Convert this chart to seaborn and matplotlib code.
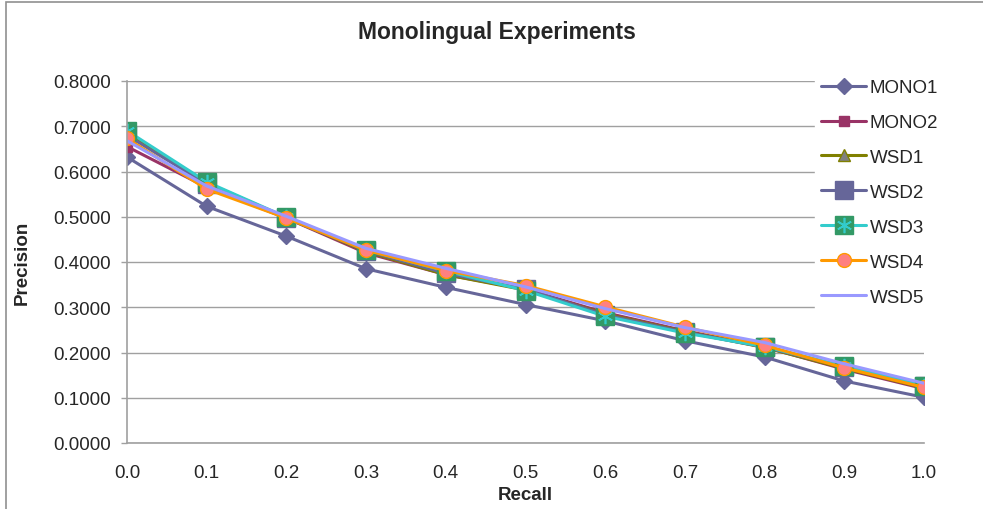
import numpy as np
import pandas as pd
import seaborn as sns
import matplotlib.pyplot as plt
from matplotlib.patches import Rectangle
from matplotlib.legend_handler import HandlerTuple
from matplotlib.ticker import FormatStrFormatter

# Данные
recall = [0.0, 0.1, 0.2, 0.3, 0.4, 0.5, 0.6, 0.7, 0.8, 0.9, 1.0]
mono1 = [0.632, 0.523, 0.457, 0.385, 0.344, 0.306, 0.270, 0.226, 0.190, 0.137, 0.101]
mono2 = [0.655, 0.565, 0.497, 0.420, 0.372, 0.340, 0.288, 0.248, 0.212, 0.163, 0.120]
wsd1 = [0.685, 0.575, 0.498, 0.423, 0.372, 0.338, 0.285, 0.246, 0.211, 0.165, 0.122]
wsd2 = [0.680, 0.572, 0.497, 0.425, 0.375, 0.340, 0.283, 0.245, 0.212, 0.168, 0.125]
wsd3 = [0.690, 0.577, 0.499, 0.427, 0.380, 0.337, 0.280, 0.243, 0.213, 0.170, 0.127]
wsd4 = [0.673, 0.561, 0.497, 0.426, 0.381, 0.348, 0.301, 0.256, 0.216, 0.166, 0.123]
wsd5 = [0.668, 0.568, 0.501, 0.430, 0.386, 0.345, 0.297, 0.255, 0.222, 0.175, 0.132]
series_names = ["MONO1", "MONO2", "WSD1", "WSD2", "WSD3", "WSD4", "WSD5"]

df = pd.DataFrame({"Recall": recall, "MONO1": mono1, "MONO2": mono2, "WSD1": wsd1,
                   "WSD2": wsd2, "WSD3": wsd3, "WSD4": wsd4, "WSD5": wsd5})

# Стиль каждой серии (как в Excel)
styles = {
    "MONO1": dict(color="#666699", marker="D", markersize=8, mfc="#666699", mec="#666699"),
    "MONO2": dict(color="#993366", marker="s", markersize=7.5, mfc="#993366", mec="#993366"),
    "WSD1": dict(color="#808000", marker="^", markersize=9, mfc="#808080", mec="#808000"),
    "WSD2": dict(color="#666699", marker="s", markersize=12.5, mfc="#666699", mec="#666699"),
    "WSD3": dict(color="#33CCCC", marker="s", markersize=12.5, mfc="#339966", mec="#339966"),
    "WSD4": dict(color="#FF9900", marker="o", markersize=10, mfc="#FF8080", mec="#FF9900"),
    "WSD5": dict(color="#9999FF", marker=None),
}

sns.set_style("white")
plt.rcParams["font.family"] = ["Liberation Sans", "DejaVu Sans"]

fig = plt.figure(figsize=(9.83, 5.10), dpi=100)
ax = fig.add_axes([127 / 983, 1 - 444 / 510, (924 - 127) / 983, (444 - 82) / 510])

handles = {}
for name in series_names:
    st = styles[name]
    sns.lineplot(data=df, x="Recall", y=name, ax=ax, color=st["color"], linewidth=2.2,
                 marker=st["marker"], markersize=st.get("markersize", 0),
                 markerfacecolor=st.get("mfc"), markeredgecolor=st.get("mec"),
                 markeredgewidth=1, label=name, legend=False)
    handles[name] = ax.lines[-1]
    if name == "WSD3":
        # звездочка поверх квадрата
        star, = ax.plot(df["Recall"], df[name], linestyle="none", marker=(6, 2, 0),
                        markersize=11, markeredgecolor="#33CCCC", markeredgewidth=1.2)
        handles[name] = (handles[name], star)

ax.set_xlim(0, 1)
ax.set_ylim(0, 0.8)
ax.set_xticks(recall)
ax.set_xticklabels([f"{v:.1f}" for v in recall])
ax.set_yticks(np.arange(0, 0.81, 0.1))
ax.yaxis.set_major_formatter(FormatStrFormatter("%.4f"))
ax.tick_params(axis="y", length=4.5, width=1, color="#a0a0a0", pad=7, labelsize=13.5, left=True)
ax.tick_params(axis="x", length=0, pad=15, labelsize=13.5)
ax.grid(axis="y", color="#a0a0a0", linewidth=1)
ax.set_axisbelow(True)
for side in ["top", "right"]:
    ax.spines[side].set_visible(False)
for side in ["left", "bottom"]:
    ax.spines[side].set_color("#a0a0a0")
    ax.spines[side].set_linewidth(1.2)
ax.set_xlabel("")
ax.set_ylabel("")

fig.text(497 / 983, 1 - 32 / 510, "Monolingual Experiments", ha="center", va="center",
         fontsize=16.5, fontweight="bold")
fig.text(22 / 983, 1 - 263 / 510, "Precision", ha="center", va="center", rotation=90,
         fontsize=13.5, fontweight="bold")
fig.text(525 / 983, 1 - 496 / 510, "Recall", ha="center", va="center",
         fontsize=13.5, fontweight="bold")

leg = ax.legend([handles[n] for n in series_names], series_names,
                loc="upper left", bbox_to_anchor=(806 / 983, 1 - 65 / 510),
                bbox_transform=fig.transFigure, frameon=True, fancybox=False,
                edgecolor="white", facecolor="white", framealpha=1,
                fontsize=13.5, labelspacing=0.95, handlelength=2.4, handletextpad=0.2,
                borderpad=0.3, handler_map={tuple: HandlerTuple(ndivide=1)})

# рамка вокруг рисунка
fig.patches.append(Rectangle((6 / 983, -0.1), 1.2, 1.1 - 2.5 / 510, transform=fig.transFigure,
                             fill=False, edgecolor="#909090", linewidth=1.2, clip_on=False))

fig.savefig("out.png", dpi=100)
